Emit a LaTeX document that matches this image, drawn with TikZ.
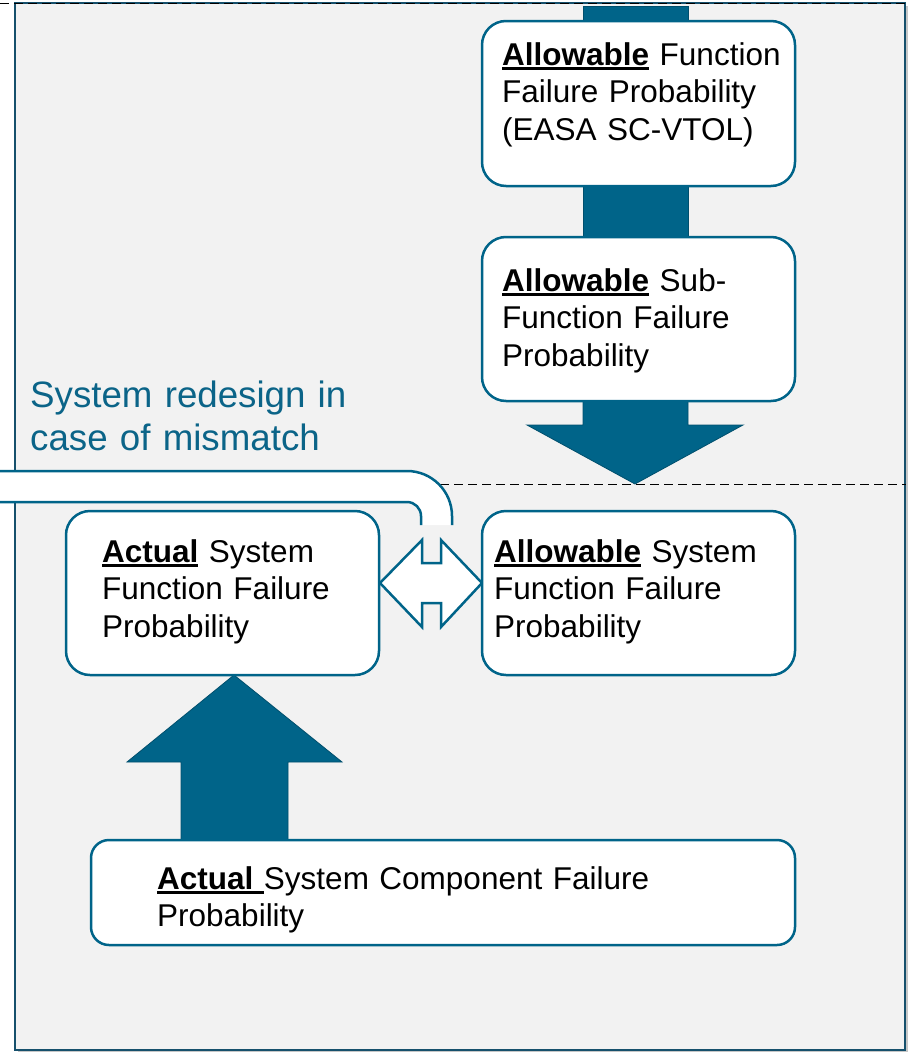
\documentclass[tikz,border=0pt]{standalone}
\usepackage{fontspec}
\setmainfont{Liberation Sans}

\definecolor{bggray}{HTML}{F2F2F2}
\definecolor{framec}{HTML}{16506C}
\definecolor{tealc}{HTML}{006489}
\definecolor{tealdk}{HTML}{004F6D}
\definecolor{tealtxt}{HTML}{0B6488}

% bold keyword with a heavy underline
\newcommand\undl[1]{\setbox0\hbox{#1}\rlap{\rule[-5pt]{\wd0}{2.6pt}}\box0\relax}

\tikzset{
  box/.style={draw=tealc, line width=2.5pt, fill=white, rounded corners=24pt,
              inner sep=0pt, outer sep=0pt},
  txt/.style={anchor=base west, inner sep=0pt, text width=330pt, align=left,
              font=\fontsize{31.5}{37.5}\selectfont},
  bigarrow/.style={fill=tealc, draw=tealdk, line width=0.8pt},
  hollow/.style={draw=tealc, line width=2.5pt, line join=miter},
  sep/.style={draw=black, line width=1pt, dash pattern=on 9pt off 5pt}
}

\begin{document}
\begin{tikzpicture}[x=1pt,y=-1pt]
\useasboundingbox (0,0) rectangle (909,1052);
\clip (0,0) rectangle (909,1052);

% background panel with a soft shadow
\fill[black!22] (18,6) rectangle (908,1052);
\draw[framec, line width=2pt, fill=bggray] (15,3) rectangle (905,1050);

% dashed separators
\draw[sep] (0,3) -- (909,3);
\draw[sep] (440,484) -- (906,484);

% thick arrows of the allocation chain
\draw[bigarrow] (583,6) rectangle (688,24);
\draw[bigarrow] (583,183) rectangle (688,240);
\draw[bigarrow] (583,398) -- (688,398) -- (688,425) -- (743,425) -- (635,484)
  -- (527,425) -- (583,425) -- cycle;
\draw[bigarrow] (181,843) -- (288,843) -- (288,762) -- (342,762) -- (234,675)
  -- (127,762) -- (181,762) -- cycle;

% feedback arrow coming in from the left
\fill[white] (-10,471) -- (407,471) arc[start angle=90,end angle=0,radius=45pt]
  -- (452,525) -- (421,525) -- (421,516) arc[start angle=0,end angle=90,radius=14pt]
  -- (-10,502) -- cycle;
\draw[hollow] (-10,471) -- (407,471) arc[start angle=90,end angle=0,radius=45pt]
  -- (452,525);
\draw[hollow] (421,525) -- (421,516) arc[start angle=0,end angle=90,radius=14pt]
  -- (-10,502);

% comparison double arrow
\draw[hollow, fill=white] (380,583) -- (422,540) -- (422,563) -- (441,563)
  -- (441,540) -- (482,583) -- (441,627) -- (441,603) -- (422,603)
  -- (422,627) -- cycle;

% boxes
\node[box, minimum width=313pt, minimum height=165pt] (A) at (638.5,103.5) {};
\node[box, minimum width=313pt, minimum height=164pt] (B) at (638.5,319) {};
\node[box, minimum width=313pt, minimum height=164pt] (C) at (638.5,593) {};
\node[box, minimum width=313pt, minimum height=164pt] (D) at (222.5,593) {};
\node[box, rounded corners=18pt, minimum width=704pt, minimum height=105pt] (E) at (443,892.5) {};

% box texts
\node[txt] (tA) at (502,65) {\undl{\textbf{Allowable}} Function\\Failure Probability\\(EASA SC-VTOL)};
\node[txt] (tB) at (502,291) {\undl{\textbf{Allowable}} Sub-\\Function Failure\\Probability};
\node[txt] (tC) at (494,562) {\undl{\textbf{Allowable}} System\\Function Failure\\Probability};
\node[txt] (tD) at (102,562) {\undl{\textbf{Actual}} System\\Function Failure\\Probability};
\node[txt, text width=600pt] (tE) at (157,889) {\undl{\textbf{Actual }}System Component Failure\\Probability};

% feedback label
\node[anchor=base west, inner sep=0pt, text width=400pt, align=left, text=tealtxt,
      font=\fontsize{36.7}{43}\selectfont] (lbl) at (30,407)
  {System redesign in\\case of mismatch};
\end{tikzpicture}
\end{document}
